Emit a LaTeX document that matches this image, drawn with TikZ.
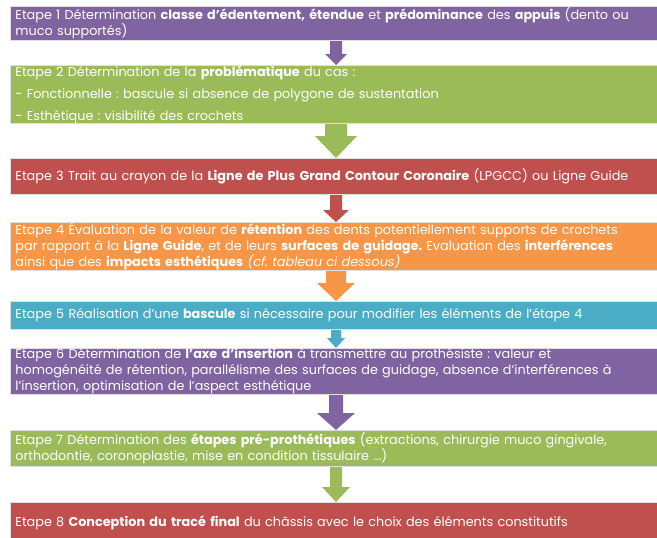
\documentclass[tikz,border=0pt]{standalone}
\usepackage{fontspec}
\setmainfont{Poppins}
\usetikzlibrary{calc}
\frenchspacing
\definecolor{cpurple}{HTML}{8064A2}
\definecolor{cgreen}{HTML}{9BBB59}
\definecolor{cred}{HTML}{C0504D}
\definecolor{corange}{HTML}{F79646}
\definecolor{ccyan}{HTML}{4BACC6}
% color, from, to, shaft half width, head half width, head length
\newcommand\blockarrow[6]{%
  \fill[#1] let \p1=(#2), \p2=(#3) in
    (\x1-#4pt,\y1) -- (\x1+#4pt,\y1) -- (\x1+#4pt,\y2+#6pt) -- (\x1+#5pt,\y2+#6pt)
    -- (\x1,\y2) -- (\x1-#5pt,\y2+#6pt) -- (\x1-#4pt,\y2+#6pt) -- cycle;}
\begin{document}
\begin{tikzpicture}[x=1pt,y=-1pt,
  stepbox/.style={draw=black!12, line width=1pt, anchor=north west,
    minimum width=670pt, text width=660pt, inner xsep=5pt, inner ysep=0pt,
    align=left, text=white, font=\frenchspacing\fontsize{12.8}{16}\selectfont}]
\useasboundingbox (0,0) rectangle (657,538);
\coordinate (ax) at (336,0);
\node[stepbox, fill=cpurple, minimum height=34pt] (s1) at (10,6)
 {Etape 1 Détermination \textbf{classe d'édentement, étendue} et \textbf{prédominance} des \textbf{appuis} (dento ou\\ muco supportés)};
\node[stepbox, fill=cgreen, minimum height=57pt] (s2) at (10,65)
 {Etape 2 Détermination de la \textbf{problématique} du cas :\\[6pt] - Fonctionnelle : bascule si absence de polygone de sustentation\\[6pt] - Esthétique : visibilité des crochets};
\node[stepbox, fill=cred, minimum height=36pt] (s3) at (10,158)
 {Etape 3 Trait au crayon de la \textbf{Ligne de Plus Grand Contour Coronaire} (LPGCC) ou Ligne Guide};
\node[stepbox, fill=corange, minimum height=48pt] (s4) at (10,222)
 {Etape 4 Évaluation de la valeur de \textbf{rétention} des dents potentiellement supports de crochets\\ par rapport à la \textbf{Ligne Guide}, et de leurs \textbf{surfaces de guidage.} Evaluation des \textbf{interférences}\\ ainsi que des \textbf{impacts esthétiques} \textit{(cf. tableau ci dessous)}};
\node[stepbox, fill=ccyan, minimum height=28pt] (s5) at (10,301)
 {Etape 5 Réalisation d'une \textbf{bascule} si nécessaire pour modifier les éléments de l'étape 4};
\node[stepbox, fill=cpurple, minimum height=46pt] (s6) at (10,348)
 {Etape 6 Détermination de \textbf{l'axe d'insertion} à transmettre au prothésiste : valeur et\\ homogénéité de rétention, parallélisme des surfaces de guidage, absence d'interférences à\\ l'insertion, optimisation de l'aspect esthétique};
\node[stepbox, fill=cgreen, minimum height=36pt] (s7) at (10,430)
 {Etape 7 Détermination des \textbf{étapes pré-prothétiques} (extractions, chirurgie muco gingivale,\\ orthodontie, coronoplastie, mise en condition tissulaire ...)};
\node[stepbox, fill=cred, minimum height=40pt] (s8) at (10,502)
 {Etape 8 \textbf{Conception du tracé final} du châssis avec le choix des éléments constitutifs};
\blockarrow{cpurple}{s1.south -| ax}{s2.north -| ax}{6}{11}{11}
\blockarrow{cgreen}{s2.south -| ax}{s3.north -| ax}{11}{21}{22}
\blockarrow{cred}{s3.south -| ax}{s4.north -| ax}{6}{13}{12}
\blockarrow{corange}{s4.south -| ax}{s5.north -| ax}{10}{19}{18}
\blockarrow{ccyan}{s5.south -| ax}{s6.north -| ax}{5}{9}{10}
\blockarrow{cpurple}{s6.south -| ax}{s7.north -| ax}{7}{19}{17}
\blockarrow{cgreen}{s7.south -| ax}{s8.north -| ax}{6}{14}{15}
\end{tikzpicture}
\end{document}
